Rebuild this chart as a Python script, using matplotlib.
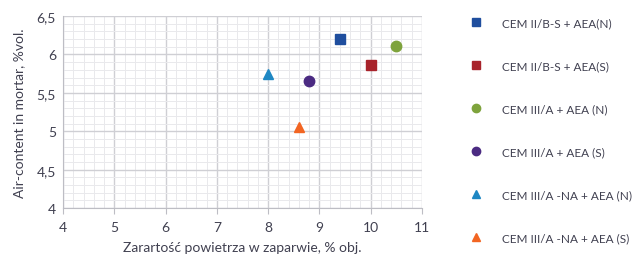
import matplotlib
matplotlib.use("Agg")
import matplotlib.pyplot as plt
from matplotlib.ticker import MultipleLocator, FuncFormatter

plt.rcParams['font.family'] = ['Lato', 'DejaVu Sans']

# dane
etykiety = ["CEM II/B-S + AEA(N)", "CEM II/B-S + AEA(S)", "CEM III/A + AEA (N)",
            "CEM III/A + AEA (S)", "CEM III/A -NA + AEA (N)", "CEM III/A -NA + AEA (S)"]
zaparwie = [9.4, 10.0, 10.5, 8.8, 8.0, 8.6]
zaprawa = [6.2, 5.86, 6.11, 5.65, 5.74, 5.05]
kolory = ["#1F4E9E", "#A8232B", "#7EA33C", "#4B2B82", "#1E87C3", "#F26522"]
markery = ["s", "s", "o", "o", "^", "^"]

tekst = "#404050"

fig = plt.figure(figsize=(6.32, 2.55), dpi=100)
ax = fig.add_axes([0.0997, 0.180, 0.568, 0.753])

for x, y, c, m, lab in zip(zaparwie, zaprawa, kolory, markery, etykiety):
    ax.plot([x], [y], linestyle="none", marker=m, color=c, markersize=7.5,
            label=lab, zorder=3)

ax.set_xlim(4, 11)
ax.set_ylim(4, 6.5)
ax.xaxis.set_major_locator(MultipleLocator(1))
ax.xaxis.set_minor_locator(MultipleLocator(0.2))
ax.yaxis.set_major_locator(MultipleLocator(0.5))
ax.yaxis.set_minor_locator(MultipleLocator(0.1))
ax.yaxis.set_major_formatter(FuncFormatter(lambda v, p: ("%g" % v).replace(".", ",")))

ax.grid(which="major", color="#CFCFD4", linewidth=1.0)
ax.grid(which="minor", color="#E9E9EC", linewidth=0.7)
ax.set_axisbelow(True)
for s in ["top", "right"]:
    ax.spines[s].set_visible(False)
for s in ["left", "bottom"]:
    ax.spines[s].set_color("#BDBDC4")
ax.tick_params(which="major", length=4, color="#BDBDC4", labelsize=10,
               labelcolor=tekst, pad=5)
ax.tick_params(which="minor", length=0)
ax.tick_params(axis="y", length=0)

ax.set_xlabel("Zarartość powietrza w zaparwie, % obj.", fontsize=10, color=tekst, labelpad=6)
ax.set_ylabel("Air-content in mortar, %vol.", fontsize=10, color=tekst, labelpad=8)

leg = fig.legend(loc="upper left", bbox_to_anchor=(0.7438, 0.927), frameon=False,
                 fontsize=8.5, labelspacing=2.71, handletextpad=1.70,
                 handlelength=1.0, borderpad=0, borderaxespad=0,
                 markerscale=0.8, labelcolor=tekst)

fig.savefig("out.png", dpi=100)
